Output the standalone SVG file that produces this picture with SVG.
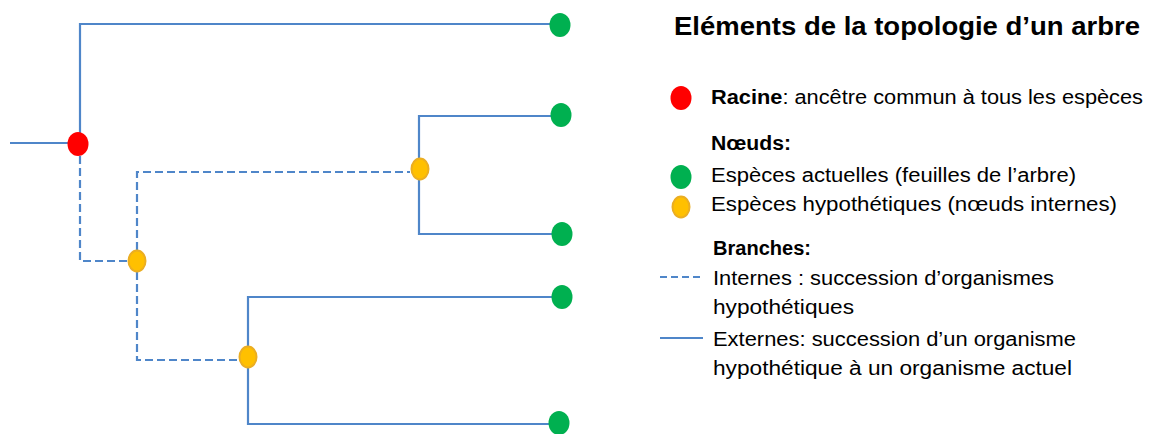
<svg xmlns="http://www.w3.org/2000/svg" width="1149" height="434" viewBox="0 0 1149 434">
<style>
.ext{fill:none;stroke:#4F86C9;stroke-width:2.2}
.int{fill:none;stroke:#4F86C9;stroke-width:2.2;stroke-dasharray:8 4}
.root{fill:#FF0000}
.leaf{fill:#00B050}
.hyp{fill:#FFC000;stroke:#EBAE22;stroke-width:2}
text{font-family:"Liberation Sans",Arial,sans-serif;font-size:20px;fill:#000}
.b{font-weight:bold}
.title{font-size:25px;font-weight:bold}
</style>
<rect width="1149" height="434" fill="#fff"/>
<g id="connectors">
<path class="ext" d="M10,143 H78"/>
<path class="ext" d="M80,140 V24 H555"/>
<path class="int" d="M80,156 V261 H128"/>
<path class="int" d="M137,250 V172 H410"/>
<path class="int" d="M137,272 V360 H239"/>
<path class="ext" d="M419,160 V116 H556"/>
<path class="ext" d="M419,180 V234 H556"/>
<path class="ext" d="M248,346 V297 H556"/>
<path class="ext" d="M248,368 V424 H554"/>
</g>
<g id="root"><ellipse class="root" cx="78" cy="144" rx="10.5" ry="12"/></g>
<g id="hyp1"><ellipse class="hyp" cx="137" cy="261" rx="8.5" ry="10.5"/></g>
<g id="hyp2"><ellipse class="hyp" cx="420" cy="169" rx="8.5" ry="10.5"/></g>
<g id="hyp3"><ellipse class="hyp" cx="248" cy="357" rx="8.5" ry="10.5"/></g>
<g id="leaf1"><ellipse class="leaf" cx="560" cy="25" rx="10.5" ry="12"/></g>
<g id="leaf2"><ellipse class="leaf" cx="561" cy="115" rx="10.5" ry="12"/></g>
<g id="leaf3"><ellipse class="leaf" cx="562" cy="234" rx="10.5" ry="12"/></g>
<g id="leaf4"><ellipse class="leaf" cx="562" cy="297" rx="10.5" ry="12"/></g>
<g id="leaf5"><ellipse class="leaf" cx="559" cy="423" rx="10.5" ry="12"/></g>
<g id="legend">
<text class="title" x="674" y="35" textLength="466" lengthAdjust="spacingAndGlyphs">Eléments de la topologie d’un arbre</text>
<ellipse class="root" cx="681" cy="98" rx="10.5" ry="12"/>
<text x="711" y="104" textLength="432" lengthAdjust="spacingAndGlyphs"><tspan class="b">Racine</tspan>: ancêtre commun à tous les espèces</text>
<text class="b" x="711" y="150" textLength="80" lengthAdjust="spacingAndGlyphs">Nœuds:</text>
<ellipse class="leaf" cx="681" cy="177" rx="10.5" ry="12"/>
<text x="711" y="182" textLength="365" lengthAdjust="spacingAndGlyphs">Espèces actuelles (feuilles de l’arbre)</text>
<ellipse class="hyp" cx="681" cy="207" rx="8.5" ry="10.5"/>
<text x="711" y="211" textLength="406" lengthAdjust="spacingAndGlyphs">Espèces hypothétiques (nœuds internes)</text>
<text class="b" x="713" y="255" textLength="98" lengthAdjust="spacingAndGlyphs">Branches:</text>
<path class="int" d="M660,277 H702" style="stroke-dasharray:7 4"/>
<text x="713" y="285" textLength="341" lengthAdjust="spacingAndGlyphs">Internes : succession d’organismes</text>
<text x="713" y="314" textLength="141" lengthAdjust="spacingAndGlyphs">hypothétiques</text>
<path class="ext" d="M660,338 H703"/>
<text x="713" y="346" textLength="363" lengthAdjust="spacingAndGlyphs">Externes: succession d’un organisme</text>
<text x="713" y="375" textLength="359" lengthAdjust="spacingAndGlyphs">hypothétique à un organisme actuel</text>
</g>
</svg>
